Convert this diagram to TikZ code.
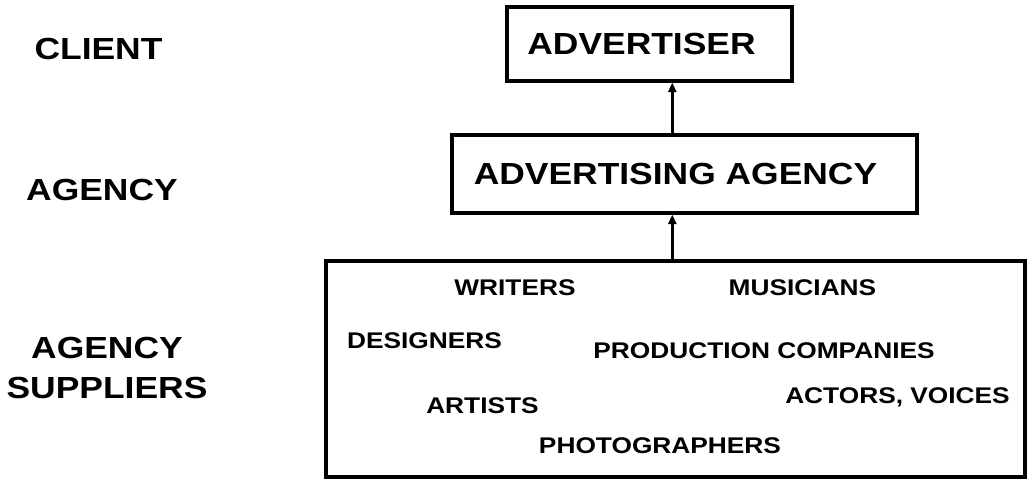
\documentclass[tikz,border=0pt]{standalone}
\usepackage{fontspec}
\setmainfont{Liberation Sans}[FakeStretch=1.16]
\usetikzlibrary{arrows.meta}
\begin{document}
\begin{tikzpicture}[x=0.75pt, y=-0.75pt, line width=2.5pt,
  every node/.style = {align=center, font=\bfseries\fontsize{22.9}{30}\selectfont},
    box/.style = {draw, rectangle, inner sep=0pt},
    supplier/.style = {anchor=base, inner sep=0pt, font=\bfseries\fontsize{17}{20}\selectfont},
    uparrow/.style = {-{Triangle[length=7pt, width=6pt]}}, ]
  \useasboundingbox (0,0) rectangle (1033,479);
  \node (client) at (98.5,48.5) {CLIENT};
  \node (agencylabel) at (102,189.5) {AGENCY};
  \node (supplierlabel) at (107,368) {AGENCY\\SUPPLIERS};
  \node[box, minimum width=213.75pt, minimum height=55.5pt] (advertiser) at (649.5,44) {ADVERTISER\hspace{12pt}};
  \node[box, minimum width=348.75pt, minimum height=58.5pt] (agency) at (684.5,174) {ADVERTISING AGENCY\hspace{13.5pt}};
  \node[box, minimum width=524.25pt, minimum height=162pt] (suppliers) at (675.5,369) {};
  \node[supplier] (writers) at (515,295) {WRITERS};
  \node[supplier] (musicians) at (802.5,295) {MUSICIANS};
  \node[supplier] (designers) at (424.5,348) {DESIGNERS};
  \node[supplier] (production) at (764,358) {PRODUCTION COMPANIES};
  \node[supplier] (artists) at (482.5,413) {ARTISTS};
  \node[supplier] (actors) at (897.5,403) {ACTORS, VOICES};
  \node[supplier] (photographers) at (660,453) {PHOTOGRAPHERS};
  \coordinate (axis) at (672.3,0);
  \draw[uparrow] (agency.north -| axis) -- (advertiser.south -| axis);
  \draw[uparrow] (suppliers.north -| axis) -- (agency.south -| axis);
\end{tikzpicture}
\end{document}
